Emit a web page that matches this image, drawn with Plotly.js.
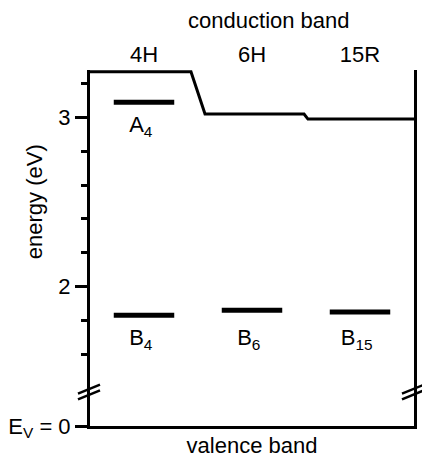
<!DOCTYPE html>
<html>
<head>
<meta charset="utf-8">
<script src="https://cdn.plot.ly/plotly-3.0.1.min.js"></script>
<style>
  html, body { margin: 0; padding: 0; background: #ffffff; }
  #chart { width: 422px; height: 461px; }
</style>
</head>
<body>
<div id="chart"></div>
<script>
// Band-edge and level energies for three SiC polytypes (eV)
const polytypes = ['4H', '6H', '15R'];
const conductionEdge = [3.27, 3.02, 2.99];
const levelA = [3.09, null, null];
const levelB = [1.83, 1.86, 1.85];
const labelsA = ['A<sub>4</sub>', null, null];
const labelsB = ['B<sub>4</sub>', 'B<sub>6</sub>', 'B<sub>15</sub>'];

// Energy axis ticks
const yTickVals = [2, 3];
const yTickText = ['2', '3'];
const yMinorVals = [1.6, 1.8, 2.2, 2.4, 2.6, 2.8, 3.2];

// The axis is broken below 1.6 eV; its bottom edge stands for E_V = 0
const valenceFloor = 1.176;
const axisTop = 3.28;

const FONT = 'Liberation Sans, Arial, Helvetica, sans-serif';
const FS = 22;
const BLACK = '#000';
const n = polytypes.length;
const centers = polytypes.map((_, i) => i + 0.5);

// Conduction band edge: flat per polytype, with short sloped steps between them
const stepHalf = [0.065, 0.018];
const cbX = [], cbY = [];
for (let i = 0; i < n; i++) {
  const left = i === 0 ? 0 : i + stepHalf[i - 1];
  const right = i === n - 1 ? n : i + 1 - stepHalf[i];
  cbX.push(left, right);
  cbY.push(conductionEdge[i], conductionEdge[i]);
}

// Short horizontal bars for the localized levels
const barHalf = 0.28;
function levelSegments(levels) {
  const x = [], y = [];
  levels.forEach((v, i) => {
    if (v === null) return;
    x.push(i + 0.5 - barHalf, i + 0.5 + barHalf, null);
    y.push(v, v, null);
  });
  return { x, y };
}
const segA = levelSegments(levelA);
const segB = levelSegments(levelB);

// Level names sit in two fixed rows under the bars
const labelRowA = 2.945, labelRowB = 1.685;
function labelPoints(labels, row) {
  const x = [], y = [], text = [];
  labels.forEach((t, i) => {
    if (!t) return;
    x.push(i + 0.47); y.push(row); text.push(t);
  });
  return { x, y, text };
}
const lblA = labelPoints(labelsA, labelRowA);
const lblB = labelPoints(labelsB, labelRowB);

const textFont = { family: FONT, size: FS, color: BLACK };

const traces = [
  // conduction band edge, drawn on the top axis that carries the polytype names
  { type: 'scatter', mode: 'lines', x: cbX, y: cbY, xaxis: 'x2', yaxis: 'y',
    line: { color: BLACK, width: 3 }, hoverinfo: 'skip' },
  { type: 'scatter', mode: 'lines', x: segA.x, y: segA.y,
    line: { color: BLACK, width: 5 }, connectgaps: false, hoverinfo: 'skip' },
  { type: 'scatter', mode: 'lines', x: segB.x, y: segB.y,
    line: { color: BLACK, width: 5 }, connectgaps: false, hoverinfo: 'skip' },
  { type: 'scatter', mode: 'text', x: lblA.x, y: lblA.y, text: lblA.text,
    textposition: 'middle center', textfont: textFont, cliponaxis: false, hoverinfo: 'skip' },
  { type: 'scatter', mode: 'text', x: lblB.x, y: lblB.y, text: lblB.text,
    textposition: 'middle center', textfont: textFont, cliponaxis: false, hoverinfo: 'skip' },
  // carrier for the energy-axis title
  { type: 'scatter', mode: 'lines', x: [null], y: [null], xaxis: 'x', yaxis: 'y3',
    hoverinfo: 'skip', showlegend: false }
];

// Axis-break marks ("//") on both vertical axes, in pixel-derived paper units
const plotL = 90, plotW = 324, plotB = 426, plotH = 356;
const px = (x) => (x - plotL) / plotW;
const py = (y) => (plotB - y) / plotH;
const shapes = [];
function breakMark(cx, cy) {
  [-2.8, 2.8].forEach(d => {
    shapes.push({ type: 'line', xref: 'paper', yref: 'paper',
      x0: px(cx - 11), y0: py(cy + d + 4.5), x1: px(cx + 11), y1: py(cy + d - 4.5),
      line: { color: BLACK, width: 2.5 } });
  });
}
breakMark(89, 392);
breakMark(413, 392);

const layout = {
  width: 422, height: 461,
  margin: { l: 90, r: 8, t: 70, b: 35 },
  paper_bgcolor: '#fff', plot_bgcolor: 'rgba(0,0,0,0)',
  showlegend: false,
  font: textFont,
  title: {
    text: 'conduction band', font: textFont,
    xref: 'container', yref: 'container',
    x: 0.637, xanchor: 'center', y: 0.955, yanchor: 'middle'
  },
  xaxis: {
    range: [0, n], showgrid: false, zeroline: false,
    showline: true, linewidth: 3, linecolor: BLACK,
    showticklabels: false, ticks: '', fixedrange: true,
    title: { text: 'valence band', font: textFont, standoff: 10 }
  },
  xaxis2: {
    range: [0, n], overlaying: 'x', side: 'top',
    showgrid: false, zeroline: false, showline: false, ticks: '',
    tickmode: 'array', tickvals: centers, ticktext: polytypes,
    tickfont: textFont, ticklabelstandoff: 3, fixedrange: true
  },
  yaxis: {
    range: [valenceFloor, axisTop], showgrid: false, zeroline: false,
    showline: true, linewidth: 3, linecolor: BLACK, mirror: true,
    tickmode: 'array',
    tickvals: [valenceFloor].concat(yTickVals),
    ticktext: ['E<sub>V</sub> = 0'].concat(yTickText),
    ticks: 'outside', ticklen: 12, tickwidth: 3, tickcolor: BLACK,
    ticklabelstandoff: 0,
    tickfont: textFont,
    minor: { tickmode: 'array', tickvals: yMinorVals, ticks: 'outside', ticklen: 6, tickwidth: 3, tickcolor: BLACK },
    fixedrange: true
  },
  // bare axis over the upper part of the plot, carrying the energy title
  yaxis3: {
    domain: [0.26, 1], anchor: 'free', position: 0, side: 'left',
    range: [0, 1], showgrid: false, zeroline: false, showline: false,
    ticks: '', showticklabels: false, fixedrange: true,
    title: { text: 'energy (eV)', font: textFont, standoff: 40 }
  },
  shapes
};

Plotly.newPlot('chart', traces, layout, { staticPlot: true, displayModeBar: false });
</script>
</body>
</html>
